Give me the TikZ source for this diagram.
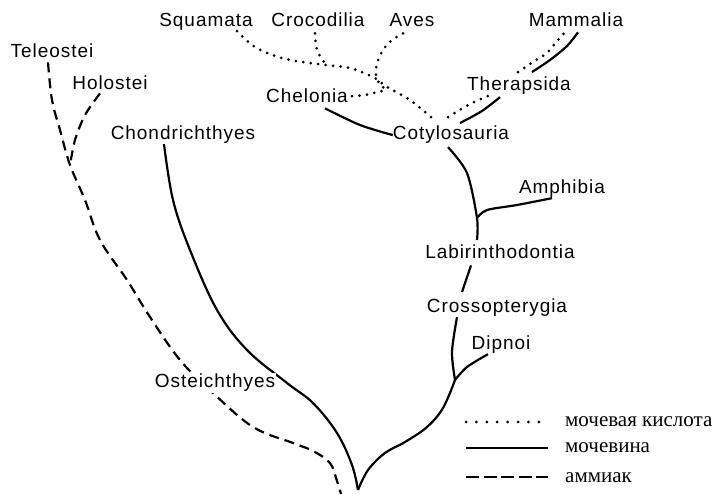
\documentclass[tikz,border=0pt]{standalone}
\usepackage{fontspec}
\setmainfont{Liberation Sans}
\newfontfamily\legendfont{Liberation Serif}
\usetikzlibrary{positioning}

\begin{document}
\begin{tikzpicture}[x=1pt,y=-1pt,
  taxon/.style={anchor=base,inner sep=0pt,
    font=\fontsize{19}{20}\selectfont\addfontfeature{LetterSpace=5}},
  uric/.style={line width=3pt,line cap=round,dash pattern=on 0pt off 7.5pt},
  urea/.style={line width=2.2pt},
  ammonia/.style={line width=2.2pt,dash pattern=on 10pt off 6pt},
  leguric/.style={line width=3pt,line cap=round,dash pattern=on 0pt off 10.4pt},
  legurea/.style={urea},
  legammonia/.style={line width=2.2pt,dash pattern=on 13pt off 4.5pt},
  legtext/.style={anchor=base west,inner sep=0pt,
    font=\legendfont\fontsize{21}{22}\selectfont}]
\useasboundingbox (0,0) rectangle (718,494);

% taxa
\node[taxon] (squam)  at (206,27)  {Squamata};
\node[taxon] (croc)   at (318,27)  {Crocodilia};
\node[taxon] (aves)   at (412,27)  {Aves};
\node[taxon] (mamm)   at (576,27)  {Mammalia};
\node[taxon] (tele)   at (52,58)   {Teleostei};
\node[taxon] (holo)   at (110,90)  {Holostei};
\node[taxon] (therap) at (519,91)  {Therapsida};
\node[taxon] (chel)   at (307,103) {Chelonia};
\node[taxon] (chond)  at (183,140) {Chondrichthyes};
\node[taxon] (cotyl)  at (451,140) {Cotylosauria};
\node[taxon] (amph)   at (562,194) {Amphibia};
\node[taxon] (labir)  at (500,259) {Labirinthodontia};
\node[taxon] (cross)  at (497,313) {Crossopterygia};
\node[taxon] (dipn)   at (501,350) {Dipnoi};

% forks
\coordinate (root)  at (358,490);
\coordinate (fdip)  at (455,380);
\coordinate (famph) at (477,218);
\coordinate (ftele) at (70,165);
\coordinate (abase) at (341,494);
\coordinate (jcroc) at (326,65);
\coordinate (jchel) at (386,90);

% urea
\draw[urea] plot[smooth,tension=0.6] coordinates {([xshift=-19pt]chond.south)
  (173,200) (190,250) (217,310) (247,350) (287,383) (313,403) (337,433)
  (352,465) (root)};
\draw[urea] plot[smooth,tension=0.6] coordinates {(root) (368,470) (385,453)
  (405,442) (427,427) (443,408) (fdip)};
\draw[urea] plot[smooth] coordinates {(fdip) (452,352) ([xshift=-40pt]cross.south)};
\draw[urea] plot[smooth] coordinates {(fdip) (467,367) ([xshift=-13pt]dipn.south)};
\draw[urea] ([xshift=-35pt,yshift=7pt]cross.north) -- ([xshift=-29pt,yshift=-6pt]labir.south);
\draw[urea] plot[smooth] coordinates {([xshift=-23pt,yshift=5pt]labir.north)
  (famph) (467,173) ([xshift=-3pt,yshift=-3pt]cotyl.south)};
\draw[urea] plot[smooth] coordinates {(famph) (487,210) (517,205)
  ([xshift=-10pt]amph.south)};
\draw[urea] plot[smooth] coordinates {([xshift=18pt,yshift=-5pt]chel.south)
  (360,125) (cotyl.west)};
\draw[urea] plot[smooth] coordinates {([xshift=9pt,yshift=3pt]cotyl.north)
  (482,111) ([xshift=-19pt,yshift=-2pt]therap.south)};
\draw[urea] plot[smooth] coordinates {([xshift=13pt,yshift=5pt]therap.north)
  (550,60) (567,46) ([xshift=2pt,yshift=-5pt]mamm.south)};

% uric acid
\draw[uric] plot[smooth] coordinates {([xshift=31pt]squam.south) (252,45)
  (267,53) (290,60) (jcroc) (350,68) (373,77) (387,87) (410,100)
  ([xshift=-19pt,yshift=8pt]cotyl.north)};
\draw[uric] plot[smooth] coordinates {([xshift=-3pt,yshift=-6pt]croc.south)
  (317,50) (jcroc)};
\draw[uric] plot[smooth] coordinates {([xshift=-9pt,yshift=-6pt]aves.south)
  (392,40) (383,50) (377,63) (376,75) (379,83) (jchel)};
\draw[uric] plot[smooth] coordinates {([xshift=4pt]chel.east) (365,95) (jchel)};
\draw[uric] plot[smooth] coordinates {([xshift=-3pt,yshift=9pt]cotyl.north)
  (470,104) ([xshift=-29pt]therap.south)};
\draw[uric] plot[smooth] coordinates {([xshift=-1pt,yshift=5pt]therap.north)
  (533,62) (547,53) (557,41) ([xshift=-11pt,yshift=-5pt]mamm.south)};

% ammonia
\draw[ammonia] plot[smooth,tension=0.6] coordinates {([xshift=-4pt,yshift=-4pt]tele.south)
  (52,100) (60,130) (ftele) (85,200) (100,240) (127,280) (150,317) (180,360)
  (213,393) (253,427) (293,443) (313,451) (330,463) (337,481) (abase)};
\draw[ammonia] plot[smooth] coordinates {([xshift=-10pt,yshift=-3pt]holo.south)
  (85,115) (75,140) (ftele)};

\node[taxon,fill=white,inner sep=1pt] (oste) at (215,388) {Osteichthyes};

% legend
\foreach \y/\sty/\txt in {427/uric/{мочевая кислота},453/urea/мочевина,482/ammonia/аммиак}{
  \node[legtext] (leg\sty) at (565,\y) {\txt};
  \draw[leg\sty] ([xshift=-99pt,yshift=5pt]leg\sty.base west)
    -- ([xshift=-17pt,yshift=5pt]leg\sty.base west);
}
\end{tikzpicture}
\end{document}
